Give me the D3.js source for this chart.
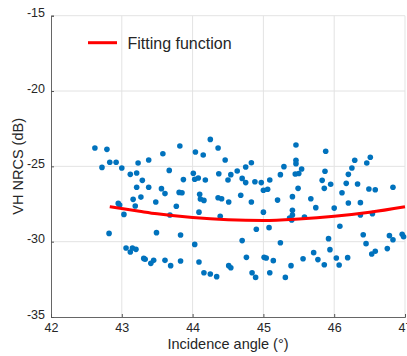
<!DOCTYPE html>
<html><head><meta charset="utf-8">
<script src="https://cdn.jsdelivr.net/npm/d3@7"></script>
<style>body{margin:0;background:#fff;}svg{display:block;font-family:"Liberation Sans",Arial,sans-serif;}</style>
</head><body>
<script>
const xTicks = [42, 43, 44, 45, 46, 47];
const yTicks = [-35, -30, -25, -20, -15];
const angle = [42.62,42.72,42.79,42.83,42.92,43.00,42.82,42.95,42.97,43.03,43.12,43.21,43.23,43.21,43.29,43.16,43.19,43.27,43.38,43.38,43.48,43.49,43.06,43.12,43.15,43.20,43.31,43.33,43.41,43.45,43.58,43.56,43.61,43.67,43.68,43.61,43.69,43.82,43.81,43.85,43.77,43.83,43.83,43.87,44.01,44.04,44.03,44.08,44.18,44.15,44.10,44.11,44.16,44.09,44.03,44.09,44.16,44.25,44.34,44.25,44.36,44.37,44.36,44.41,44.39,44.46,44.50,44.54,44.51,44.51,44.54,44.63,44.70,44.75,44.68,44.75,44.83,44.83,44.70,44.76,44.84,44.89,44.90,44.88,44.97,45.00,45.06,45.09,45.00,45.08,45.01,45.04,45.14,45.09,45.20,45.24,45.29,45.24,45.31,45.39,45.46,45.46,45.46,45.45,45.50,45.54,45.49,45.41,45.41,45.41,45.37,45.40,45.58,45.56,45.67,45.74,45.71,45.77,45.86,45.83,45.87,45.88,45.86,45.95,45.92,45.94,46.00,46.03,46.07,46.08,46.11,46.17,46.20,46.25,46.29,46.20,46.19,46.33,46.37,46.37,46.41,46.45,46.46,46.51,46.49,46.58,46.54,46.53,46.58,46.75,46.78,46.83,46.83,46.96,46.98];
const nrcs = [-23.78,-25.07,-23.87,-24.73,-24.73,-25.11,-29.45,-27.46,-27.57,-28.19,-25.53,-25.44,-24.78,-26.39,-25.93,-27.19,-27.63,-27.04,-24.58,-26.39,-27.37,-29.40,-30.42,-30.69,-30.42,-30.51,-31.11,-31.17,-31.44,-31.24,-24.16,-26.48,-26.81,-25.27,-28.23,-31.24,-31.59,-23.65,-26.73,-26.75,-27.65,-29.56,-31.28,-25.88,-25.46,-24.05,-25.86,-25.77,-25.91,-24.25,-26.86,-27.17,-27.26,-28.04,-30.18,-31.35,-32.06,-32.15,-32.32,-23.21,-23.78,-25.49,-27.08,-27.15,-28.32,-24.58,-25.91,-25.55,-27.37,-31.59,-31.73,-25.31,-25.80,-26.08,-26.92,-25.04,-24.76,-27.37,-29.93,-31.04,-32.06,-32.37,-29.18,-26.02,-26.08,-26.59,-26.52,-25.91,-28.04,-29.07,-31.04,-31.08,-31.26,-32.06,-27.24,-25.55,-25.02,-30.07,-32.37,-31.59,-23.58,-24.60,-24.82,-25.51,-25.47,-25.18,-26.46,-27.01,-27.92,-28.23,-28.43,-28.56,-28.36,-31.13,-27.15,-27.74,-30.73,-31.19,-31.53,-25.93,-25.33,-24.00,-26.46,-26.19,-29.80,-30.53,-27.77,-31.08,-31.55,-28.98,-26.75,-26.13,-25.53,-25.11,-24.60,-27.43,-31.06,-26.17,-27.41,-28.23,-29.54,-30.13,-24.78,-24.40,-26.50,-26.55,-28.14,-30.82,-30.64,-30.46,-29.60,-29.87,-26.39,-29.51,-29.67];
const fitAngle = [42.83, 43.25, 43.5, 44.0, 44.5, 45.0, 45.5, 46.0, 46.5, 47.0];
const fitNrcs = [-27.68, -27.98, -28.15, -28.40, -28.55, -28.60, -28.50, -28.32, -28.05, -27.68];

const W = 407, H = 356;
const m = {left: 51, right: 405, top: 15.7, bottom: 317};
const svg = d3.select("body").append("svg").attr("width", W).attr("height", H);
const x = d3.scaleLinear().domain([42, 47]).range([m.left, m.right]);
const y = d3.scaleLinear().domain([-35, -15]).range([m.bottom, m.top]);

// grid
svg.append("g").selectAll("line").data(xTicks.slice(1)).join("line")
  .attr("x1", d => x(d)).attr("x2", d => x(d)).attr("y1", m.top).attr("y2", m.bottom)
  .attr("stroke", "#e3e3e3").attr("stroke-width", 1);
svg.append("g").selectAll("line").data(yTicks.slice(1)).join("line")
  .attr("x1", m.left).attr("x2", m.right).attr("y1", d => y(d)).attr("y2", d => y(d))
  .attr("stroke", "#e3e3e3").attr("stroke-width", 1);

// axes
const fmt = d => String(d);
const xAxis = svg.append("g").attr("transform", `translate(0,${m.bottom})`)
  .call(d3.axisBottom(x).tickValues(xTicks).tickSize(-3).tickPadding(6).tickFormat(fmt));
const yAxis = svg.append("g").attr("transform", `translate(${m.left},0)`)
  .call(d3.axisLeft(y).tickValues(yTicks).tickSize(-3).tickPadding(6).tickFormat(fmt));
[xAxis, yAxis].forEach(a => {
  a.select(".domain").attr("stroke", "#555").attr("stroke-width", 0.9);
  a.selectAll(".tick line").attr("stroke", "#555");
  a.selectAll(".tick text").attr("fill", "#262626").attr("font-size", 12.5).attr("font-family", "Liberation Sans, Arial, sans-serif");
});
yAxis.selectAll(".tick text").attr("dy", "0.1em");

// points
const pts = angle.map((a, i) => [a, nrcs[i]]);
svg.append("g").selectAll("circle").data(pts).join("circle")
  .attr("cx", d => x(d[0])).attr("cy", d => y(d[1])).attr("r", 2.8)
  .attr("fill", "#0072BD");

// fit line
const fit = fitAngle.map((a, i) => [a, fitNrcs[i]]);
svg.append("path").datum(fit)
  .attr("d", d3.line().x(d => x(d[0])).y(d => y(d[1])).curve(d3.curveMonotoneX))
  .attr("fill", "none").attr("stroke", "#ff0000").attr("stroke-width", 3);

// legend
svg.append("line").attr("x1", 88).attr("x2", 117).attr("y1", 42.7).attr("y2", 42.7)
  .attr("stroke", "#ff0000").attr("stroke-width", 3);
svg.append("text").attr("x", 127.5).attr("y", 48.5).attr("font-size", 16).attr("fill", "#262626")
  .text("Fitting function");

// axis titles
svg.append("text").attr("x", (m.left + m.right) / 2 + 0).attr("y", 349).attr("text-anchor", "middle")
  .attr("font-size", 14.5).attr("fill", "#262626").text("Incidence angle (°)");
svg.append("text").attr("transform", `translate(23,${(m.top + m.bottom) / 2}) rotate(-90)`)
  .attr("text-anchor", "middle").attr("font-size", 14.5).attr("fill", "#262626").text("VH NRCS (dB)");
</script>
</body></html>
